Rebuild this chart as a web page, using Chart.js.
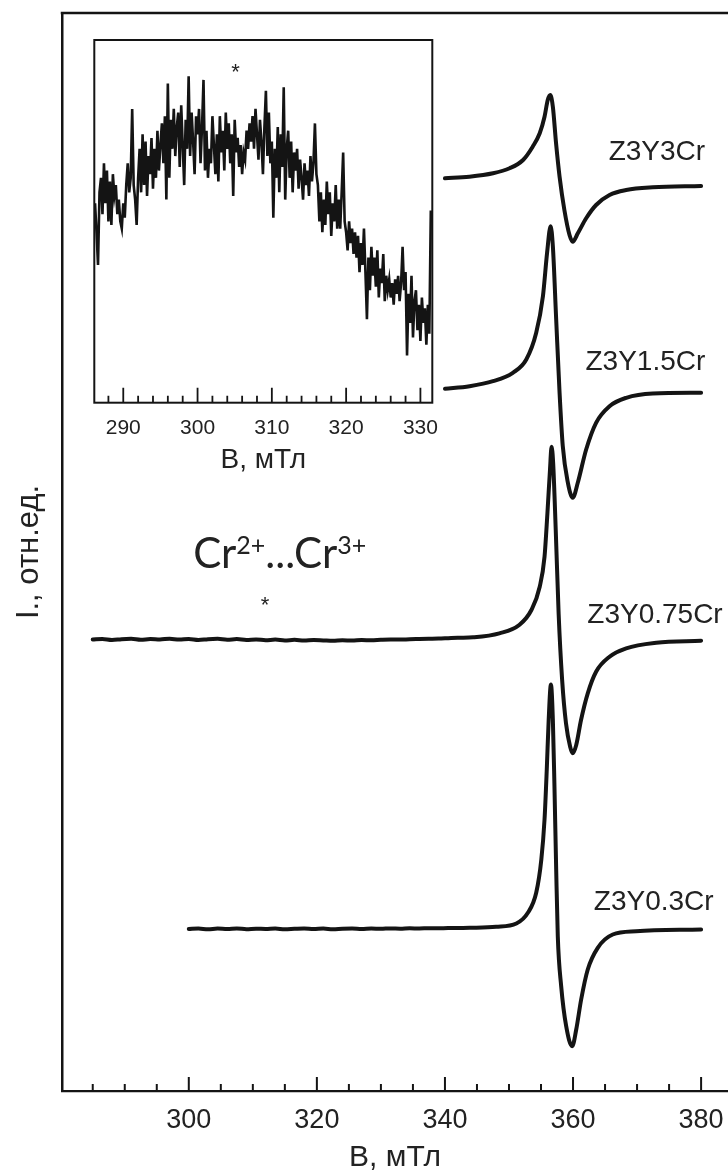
<!DOCTYPE html>
<html>
<head>
<meta charset="utf-8">
<title>EPR spectra</title>
<script src="https://cdn.jsdelivr.net/npm/chart.js@4.4.1/dist/chart.umd.min.js"></script>
<style>
  html, body { margin: 0; padding: 0; background: #fff; overflow: hidden; }
  #wrap { position: relative; width: 728px; height: 1174px; }
  #main { position: absolute; left: 0; top: 0; }
  #inset { position: absolute; left: 90px; top: 30px; }
</style>
</head>
<body>
<div id="wrap">
  <canvas id="main" width="728" height="1174"></canvas>
  <canvas id="inset" width="350" height="445"></canvas>
</div>
<script>
// ---- Main panel: EPR spectra (B in mT, signal in arb. units above each trace baseline) ----
const sampleNames = ['Z3Y3Cr', 'Z3Y1.5Cr', 'Z3Y0.75Cr', 'Z3Y0.3Cr'];
const traceOffsets = [90.8, 70.0, 45.1, 16.2];
const mainTickLabels = [300, 320, 340, 360, 380];

const fieldZ3Y3Cr = [340.0, 343.8, 347.5, 350.1, 352.2, 353.7, 354.8, 355.55, 356.05, 356.45,
  356.85, 357.35, 357.9, 358.65, 359.45, 359.95, 360.75, 362.05, 363.6, 365.7, 368.3, 372.45, 380.0];
const signalZ3Y3Cr = [0.47, 0.63, 0.97, 1.47, 2.3, 3.63, 4.97, 6.63, 8.3, 8.8,
  7.63, 3.97, 0.63, -2.7, -5.2, -5.87, -5.03, -3.53, -2.2, -1.2, -0.7, -0.43, -0.3];

const fieldZ3Y15Cr = [340.0, 343.85, 347.5, 350.6, 352.7, 354.25, 355.3, 355.95, 356.5, 356.85,
  357.37, 357.9, 358.4, 359.2, 359.96, 360.74, 362.05, 363.6, 365.7, 368.3, 372.45, 380.0];
const signalZ3Y15Cr = [0.22, 0.48, 0.98, 1.82, 3.15, 5.82, 9.48, 13.82, 16.48, 14.48,
  7.15, -0.18, -5.52, -9.18, -10.68, -9.18, -5.85, -3.18, -1.52, -0.68, -0.25, -0.18];

const fieldZ3Y075Cr = [285.0, 286.5, 288.0, 289.5, 291.0, 292.5, 294.0, 295.5, 297.0, 298.5,
  300.0, 301.5, 303.0, 304.5, 306.0, 307.5, 309.0, 310.5, 312.0, 313.5,
  315.0, 316.5, 318.0, 319.5, 321.0, 322.5, 324.0, 325.5, 327.0, 328.5,
  330.0, 331.5, 333.0, 334.5, 336.0, 337.5, 339.0, 340.5, 342.0,
  344.4, 348.5, 351.6, 353.5, 354.8, 355.55, 356.0, 356.4, 356.65, 356.9,
  357.3, 357.75, 358.3, 358.9, 359.55, 359.95, 360.5, 361.25, 362.3, 363.6,
  365.7, 368.3, 373.0, 380.0];
const signalZ3Y075Cr = [0.05, 0.1, 0.0, 0.08, 0.12, 0.02, 0.1, 0.05, 0.13, 0.04,
  0.1, 0.0, 0.08, 0.12, 0.03, 0.09, 0.0, 0.06, -0.02, 0.04,
  -0.05, 0.02, -0.06, 0.0, -0.04, -0.08, -0.02, -0.06, 0.0, -0.03,
  0.02, 0.05, 0.04, 0.08, 0.1, 0.12, 0.14, 0.18, 0.22,
  0.27, 0.67, 1.5, 3.0, 5.33, 8.33, 12.67, 17.0, 19.33, 17.67,
  11.0, 2.67, -4.0, -8.33, -10.67, -11.33, -10.5, -8.0, -5.33, -3.17,
  -1.67, -0.83, -0.27, -0.07];

const fieldZ3Y03Cr = [300.0, 301.5, 303.0, 304.5, 306.0, 307.5, 309.0, 310.5, 312.0, 313.5,
  315.0, 316.5, 318.0, 319.5, 321.0, 322.5, 324.0, 325.5, 327.0, 328.5,
  330.0, 331.5, 333.0, 334.5, 336.0, 337.5, 339.0, 340.5, 342.0,
  343.85, 348.0, 351.15, 352.95, 354.25, 355.05, 355.55, 355.9, 356.2, 356.55,
  356.85, 357.1, 357.37, 357.62, 358.15, 358.93, 359.87, 360.5, 361.27, 362.3,
  363.86, 366.2, 369.85, 380.0];
const signalZ3Y03Cr = [0.0, 0.05, -0.03, 0.04, 0.0, 0.06, -0.02, 0.03, 0.0, 0.05,
  -0.03, 0.02, 0.06, 0.0, 0.04, -0.02, 0.03, 0.05, 0.0, 0.04,
  0.02, 0.06, 0.03, 0.07, 0.05, 0.08, 0.07, 0.1, 0.1,
  0.12, 0.22, 0.55, 1.62, 3.62, 6.95, 10.95, 15.95, 20.95, 24.45,
  20.95, 14.28, 5.95, -0.72, -5.72, -9.72, -11.72, -10.05, -7.05, -4.05,
  -1.88, -0.55, -0.22, -0.05];

// ---- Inset: weak broad band, 0.2 mT sweep step ----
const insetTickLabels = [290, 300, 310, 320, 330];
const insetFieldStart = 286.2;
const insetFieldStep = 0.2;
const insetSignal = [
  55, 47, 38, 58, 62, 52, 66, 55, 64, 50,
  61, 49, 63, 57, 60, 52, 56, 50, 48, 55,
  51, 60, 66, 58, 62, 81, 60, 56, 49, 62,
  70, 58, 74, 60, 72, 57, 68, 63, 73, 59,
  70, 62, 75, 64, 71, 77, 66, 79, 56, 88,
  62, 78, 70, 81, 68, 76, 80, 65, 82, 71,
  60, 78, 70, 90, 68, 80, 72, 63, 79, 74,
  81, 66, 76, 89, 64, 75, 62, 70, 66, 79,
  71, 63, 74, 61, 79, 69, 75, 64, 80, 70,
  77, 66, 74, 57, 78, 69, 73, 65, 71, 63,
  69, 67, 75, 70, 77, 72, 79, 70, 81, 74,
  67, 78, 72, 63, 76, 86, 68, 80, 66, 72,
  51, 70, 62, 76, 58, 74, 65, 87, 56, 70,
  75, 62, 72, 58, 69, 64, 70, 59, 67, 62,
  56, 66, 60, 64, 57, 68, 61, 66, 77, 63,
  60, 50, 58, 47, 56, 49, 61, 52, 58, 46,
  55, 50, 60, 48, 56, 48, 58, 69, 50, 47,
  42, 50, 44, 48, 41, 47, 40, 46, 36, 44,
  38, 48, 36, 23, 40, 31, 43, 35, 40, 32,
  42, 29, 37, 33, 41, 28, 35, 31, 34, 29,
  33, 27, 34, 30, 35, 28, 33, 43, 31, 36,
  13, 30, 22, 35, 18, 28, 31, 20, 27, 17,
  29, 22, 26, 16, 27, 19, 53
];

// ---- Styling ----
const INK = '#141414';
const TEXT = '#222222';
const SANS = '"Liberation Sans", Arial, sans-serif';

const traces = [
  [fieldZ3Y3Cr, signalZ3Y3Cr],
  [fieldZ3Y15Cr, signalZ3Y15Cr],
  [fieldZ3Y075Cr, signalZ3Y075Cr],
  [fieldZ3Y03Cr, signalZ3Y03Cr]
];

// where each sample name sits: [B (mT), level (arb. units)]
const nameAnchors = [[373.1, 93.9], [371.3, 72.9], [372.8, 47.6], [372.6, 18.9]];

function drawStar(ctx, px, py) {
  ctx.font = '22px ' + SANS;
  ctx.textAlign = 'center';
  ctx.textBaseline = 'alphabetic';
  ctx.fillText('*', px, py + 12.5);
}

function drawIonLabel(ctx, cx, baseY) {
  const parts = [
    { t: 'Cr', f: '42px Lato', dy: 0 },
    { t: '2+', f: '25px Lato', dy: -14 },
    { t: '...Cr', f: '42px Lato', dy: 0 },
    { t: '3+', f: '25px Lato', dy: -14 }
  ];
  let w = 0;
  parts.forEach(p => { ctx.font = p.f; p.w = ctx.measureText(p.t).width; w += p.w; });
  let xx = cx - w / 2;
  ctx.textAlign = 'left';
  ctx.textBaseline = 'alphabetic';
  parts.forEach(p => { ctx.font = p.f; ctx.fillText(p.t, xx, baseY + p.dy); xx += p.w; });
}

function drawInwardTicks(ctx, scale, area, majors, majorLen, minorLen) {
  ctx.beginPath();
  for (const t of scale.ticks) {
    const px = scale.getPixelForValue(t.value);
    const len = majors.includes(t.value) ? majorLen : minorLen;
    ctx.moveTo(px, area.bottom);
    ctx.lineTo(px, area.bottom - len);
  }
  ctx.stroke();
}

const mainDecor = {
  id: 'mainDecor',
  afterDraw(chart) {
    const { ctx, chartArea: a } = chart;
    const x = chart.scales.x, y = chart.scales.y;
    ctx.save();
    ctx.strokeStyle = INK;
    ctx.lineWidth = 2.5;
    ctx.beginPath();
    ctx.moveTo(a.left - 1.25, a.top);
    ctx.lineTo(a.right + 2, a.top);
    ctx.stroke();
    ctx.lineWidth = 2;
    drawInwardTicks(ctx, x, a, mainTickLabels, 14, 7);

    ctx.fillStyle = TEXT;
    ctx.font = '28px ' + SANS;
    ctx.textAlign = 'center';
    ctx.textBaseline = 'middle';
    sampleNames.forEach((name, i) => {
      const [b, lv] = nameAnchors[i];
      ctx.fillText(name, x.getPixelForValue(b), y.getPixelForValue(lv));
    });

    drawIonLabel(ctx, x.getPixelForValue(314.2), y.getPixelForValue(52.3));
    drawStar(ctx, x.getPixelForValue(311.9), y.getPixelForValue(49.2));
    ctx.restore();
  }
};

new Chart(document.getElementById('main'), {
  type: 'line',
  data: {
    datasets: traces.map(([field, signal], i) => ({
      label: sampleNames[i],
      data: field.map((b, k) => ({ x: b, y: traceOffsets[i] + signal[k] })),
      borderColor: INK,
      borderWidth: 4,
      pointRadius: 0,
      fill: false,
      cubicInterpolationMode: 'monotone',
      borderJoinStyle: 'round',
      borderCapStyle: 'round'
    }))
  },
  options: {
    responsive: false,
    animation: false,
    events: [],
    layout: { autoPadding: false, padding: { top: 13, left: 0, right: 0, bottom: 0 } },
    plugins: { legend: { display: false }, tooltip: { enabled: false } },
    scales: {
      x: {
        type: 'linear',
        position: 'bottom',
        min: 280.2,
        max: 384.2,
        grid: { display: false, drawTicks: true, tickLength: 16, tickColor: 'rgba(0,0,0,0)' },
        border: { display: true, color: INK, width: 2.2 },
        ticks: {
          stepSize: 5,
          includeBounds: false,
          autoSkip: false,
          maxRotation: 0,
          padding: 0,
          color: TEXT,
          font: { family: SANS, size: 27, lineHeight: 1 },
          callback: v => mainTickLabels.includes(Math.round(v)) ? String(Math.round(v)) : ''
        },
        title: {
          display: true,
          text: 'B, мТл',
          color: TEXT,
          font: { family: SANS, size: 30, lineHeight: 1 },
          padding: { top: 0, bottom: 1 }
        },
        afterFit: s => { s.height = 83; }
      },
      y: {
        type: 'linear',
        position: 'left',
        min: 0,
        max: 107.8,
        grid: { display: false, drawTicks: false },
        border: { display: true, color: INK, width: 2.5 },
        ticks: { display: false },
        title: {
          display: true,
          text: 'I., отн.ед.',
          color: TEXT,
          font: { family: SANS, size: 31, lineHeight: 1 },
          padding: { top: 14, bottom: 0 }
        },
        afterFit: s => { s.width = 62; }
      }
    }
  },
  plugins: [mainDecor]
});

// ---- Inset chart ----
const insetDecor = {
  id: 'insetDecor',
  beforeDraw(chart) {
    const { ctx, chartArea: a } = chart;
    ctx.save();
    ctx.fillStyle = '#ffffff';
    ctx.fillRect(a.left, a.top, a.right - a.left, a.bottom - a.top);
    ctx.restore();
  },
  afterDraw(chart) {
    const { ctx, chartArea: a } = chart;
    const x = chart.scales.x, y = chart.scales.y;
    ctx.save();
    ctx.strokeStyle = INK;
    ctx.lineWidth = 2;
    ctx.strokeRect(a.left, a.top, a.right - a.left, a.bottom - a.top);
    ctx.lineWidth = 1.8;
    drawInwardTicks(ctx, x, a, insetTickLabels, 15, 7);
    ctx.fillStyle = TEXT;
    drawStar(ctx, x.getPixelForValue(305.1), y.getPixelForValue(92.8));
    ctx.restore();
  }
};

new Chart(document.getElementById('inset'), {
  type: 'line',
  data: {
    datasets: [{
      label: 'inset',
      data: insetSignal.map((v, k) => ({ x: insetFieldStart + k * insetFieldStep, y: v })),
      borderColor: INK,
      borderWidth: 2.6,
      pointRadius: 0,
      fill: false,
      tension: 0
    }]
  },
  options: {
    responsive: false,
    animation: false,
    events: [],
    layout: { autoPadding: false, padding: { top: 10, left: 4.3, right: 7.7, bottom: 0 } },
    plugins: { legend: { display: false }, tooltip: { enabled: false } },
    scales: {
      x: {
        type: 'linear',
        min: 286.1,
        max: 331.6,
        grid: { display: false, drawTicks: true, tickLength: 15, tickColor: 'rgba(0,0,0,0)' },
        border: { display: false },
        ticks: {
          stepSize: 2,
          includeBounds: false,
          autoSkip: false,
          maxRotation: 0,
          padding: 0,
          color: TEXT,
          font: { family: SANS, size: 21, lineHeight: 1 },
          callback: v => insetTickLabels.includes(Math.round(v)) ? String(Math.round(v)) : ''
        },
        title: {
          display: true,
          text: 'B, мТл',
          color: TEXT,
          font: { family: SANS, size: 28, lineHeight: 1 },
          padding: { top: 0, bottom: 1 }
        },
        afterFit: s => { s.height = 72.3; }
      },
      y: {
        type: 'linear',
        display: false,
        min: 0,
        max: 100
      }
    }
  },
  plugins: [insetDecor]
});
</script>
</body>
</html>
